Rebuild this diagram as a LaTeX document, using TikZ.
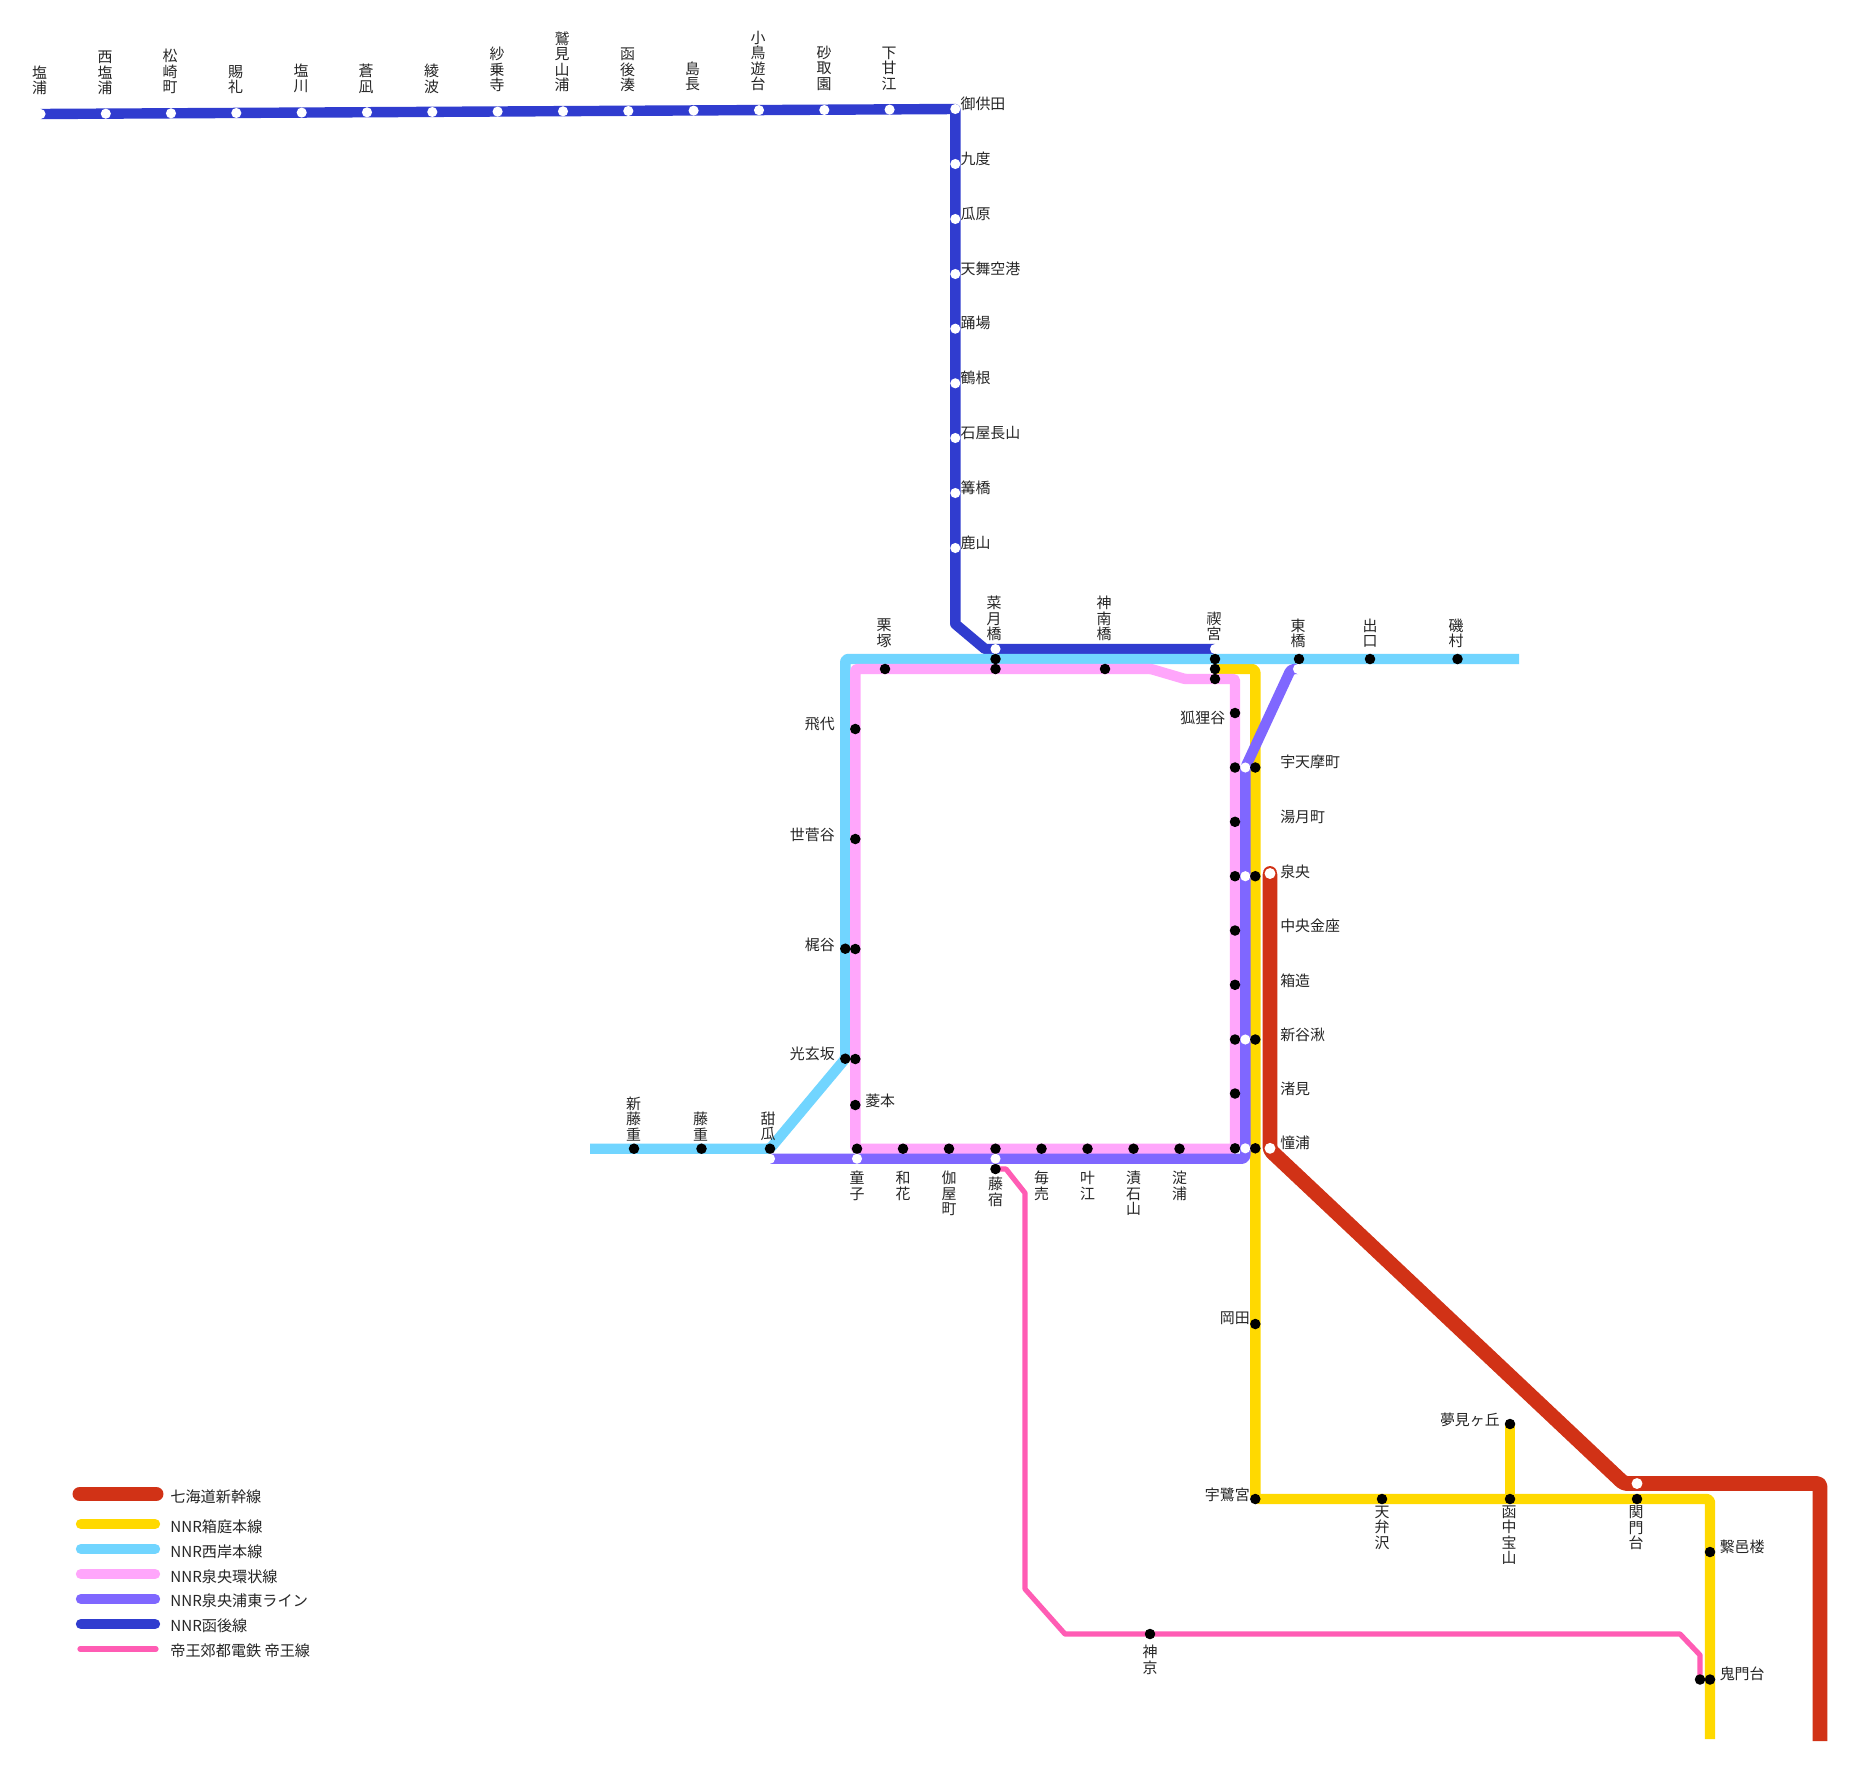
\documentclass[tikz,border=0pt]{standalone}
\usepackage{fontspec}
\setmainfont{Noto Sans CJK JP}
\begin{document}
\begin{tikzpicture}[x=0.75pt,y=-0.75pt,
  lbl/.style={font=\fontsize{11.2pt}{11.6pt}\selectfont,text=black!85,inner sep=0pt},
  lgt/.style={lbl,font=\fontsize{11.35pt}{11.6pt}\selectfont,anchor=west},
  vtop/.style={lbl,anchor=south,align=center},
  vbot/.style={lbl,anchor=north,align=center},
  hleft/.style={lbl,anchor=west},
  hright/.style={lbl,anchor=east},
  bk/.style={circle,fill=black,inner sep=0pt,minimum size=7.9pt},
  wt/.style={circle,fill=white,inner sep=0pt,minimum size=7.6pt},
  wtr/.style={circle,fill=white,inner sep=0pt,minimum size=8.2pt},
  rail/.style={line width=7.8pt,line join=round},
  redl/.style={line width=11.2pt,draw=cRed,line join=round},
  yell/.style={rail,draw=cYellow},
  cyanl/.style={rail,draw=cCyan},
  pinkl/.style={rail,draw=cPink},
  purpl/.style={rail,draw=cPurple},
  bluel/.style={rail,draw=cBlue},
  magl/.style={line width=3.9pt,draw=cMag,line join=round},
  lg/.style={line cap=round}]
\definecolor{cRed}{HTML}{D13216}
\definecolor{cYellow}{HTML}{FFD900}
\definecolor{cCyan}{HTML}{71D5FF}
\definecolor{cPink}{HTML}{FFA6FB}
\definecolor{cPurple}{HTML}{7F67FF}
\definecolor{cBlue}{HTML}{303CCF}
\definecolor{cMag}{HTML}{FF5CB4}
\useasboundingbox (0,0) rectangle (1858,1771);
\fill[white] (0,0) rectangle (1858,1771);

% bend coordinates
\coordinate (rA) at (1270,873.5);
\coordinate (rB) at (1270,1150);
\coordinate (rC) at (1624,1483.5);
\coordinate (rD) at (1820,1483.5);
\coordinate (rE) at (1820,1741);
\coordinate (yA) at (1215,669);
\coordinate (yB) at (1255.3,669);
\coordinate (yC) at (1255.3,1499);
\coordinate (yD) at (1710,1499);
\coordinate (yE) at (1710,1739);
\coordinate (cA) at (1519,659);
\coordinate (cB) at (845.3,659);
\coordinate (cC) at (845.3,1058.7);
\coordinate (cD) at (770,1148.7);
\coordinate (cE) at (590,1148.7);
\coordinate (pA) at (855.3,1148.7);
\coordinate (pB) at (855.3,669);
\coordinate (pC) at (1151,669);
\coordinate (pD) at (1185,679);
\coordinate (pE) at (1235,679);
\coordinate (pF) at (1235,1148.7);
\coordinate (uA) at (770,1158.7);
\coordinate (uB) at (1245.3,1158.7);
\coordinate (uC) at (1245.3,767.5);
\coordinate (uD) at (1291,669);
\coordinate (uE) at (1298,669);
\coordinate (bA) at (40.5,114);
\coordinate (bB) at (955.3,109);
\coordinate (bC) at (955.3,624);
\coordinate (bD) at (985,649);
\coordinate (bE) at (1215,649);
\coordinate (mA) at (995.5,1169);
\coordinate (mB) at (1006,1169);
\coordinate (mC) at (1025,1193);
\coordinate (mD) at (1025,1589);
\coordinate (mE) at (1065,1634);
\coordinate (mF) at (1680,1634);
\coordinate (mG) at (1700,1655);
\coordinate (mH) at (1700,1679);
\coordinate (yS) at (1510,1424);
\coordinate (yT) at (1510,1499);

% lines
\draw[redl,rounded corners=2.5pt] (rA) -- (rB) -- (rC) -- (rD) -- (rE);
\draw[redl,line cap=round] (rA) -- ++(0,1);
\draw[bluel,line cap=square] (bA) -- (bB) -- (bC) -- (bD) -- (bE);
\draw[yell,rounded corners=2.5pt] (yA) -- (yB) -- (yC) -- (yD) -- (yE);
\draw[yell,line cap=square] (yS) -- (yT);
\draw[cyanl,rounded corners=2pt] (cA) -- (cB) -- (cC) -- (cD) -- (cE);
\draw[pinkl,rounded corners=1pt] (pA) -- (pB) -- (pC) -- (pD) -- (pE) -- (pF) -- cycle;
\draw[purpl,line cap=square,rounded corners=2.5pt] (uA) -- (uB) -- (uC) -- (uD) -- (uE);
\draw[magl] (mA) -- (mB) -- (mC) -- (mD) -- (mE) -- (mF) -- (mG) -- (mH);

% blue line stations
\node[wt] (h1) at (40.5,114) {};
\node[wt] (h2) at (105.8,113.7) {};
\node[wt] (h3) at (171,113.3) {};
\node[wt] (h4) at (236.3,113) {};
\node[wt] (h5) at (301.7,112.6) {};
\node[wt] (h6) at (367,112.3) {};
\node[wt] (h7) at (432.3,112) {};
\node[wt] (h8) at (497.6,111.6) {};
\node[wt] (h9) at (563,111.3) {};
\node[wt] (h10) at (628.3,111) {};
\node[wt] (h11) at (693.6,110.6) {};
\node[wt] (h12) at (759,110.2) {};
\node[wt] (h13) at (824.3,110) {};
\node[wt] (h14) at (889.6,109.6) {};
\node[wt] (h15) at (955.3,109) {};
\node[wt] (h16) at (955.3,164) {};
\node[wt] (h17) at (955.3,219) {};
\node[wt] (h18) at (955.3,274) {};
\node[wt] (h19) at (955.3,328.7) {};
\node[wt] (h20) at (955.3,383.3) {};
\node[wt] (h21) at (955.3,438) {};
\node[wt] (h22) at (955.3,493) {};
\node[wt] (h23) at (955.3,548) {};
\node[wt] (h24) at (995.5,649) {};
\node[wt] (h25) at (1215,649) {};

% top row labels
\node[vtop] at (39.5,95) {塩\\浦};
\node[vtop] at (105,95) {西\\塩\\浦};
\node[vtop] at (170,94) {松\\崎\\町};
\node[vtop] at (235.5,94) {賜\\礼};
\node[vtop] at (301,93.5) {塩\\川};
\node[vtop] at (366,93.5) {蒼\\凪};
\node[vtop] at (431.5,93.5) {綾\\波};
\node[vtop] at (497,92) {紗\\乗\\寺};
\node[vtop] at (562,92) {鷲\\見\\山\\浦};
\node[vtop] at (627.5,92) {函\\後\\湊};
\node[vtop] at (692.5,91.5) {島\\長};
\node[vtop] at (758,91) {小\\鳥\\遊\\台};
\node[vtop] at (824,90.5) {砂\\取\\園};
\node[vtop] at (889,90.5) {下\\甘\\江};

\node[hleft] at (960.3,104) {御供田};
\node[hleft] at (960.3,158.5) {九度};
\node[hleft] at (960.3,213.5) {瓜原};
\node[hleft] at (960.3,268.5) {天舞空港};
\node[hleft] at (960.3,323) {踊場};
\node[hleft] at (960.3,377.5) {鶴根};
\node[hleft] at (960.3,432.5) {石屋長山};
\node[hleft] at (960.3,487.5) {篝橋};
\node[hleft] at (960.3,542.5) {鹿山};

% cyan stations
\node[bk] (w1) at (995.5,659) {};
\node[bk] (w2) at (1215,659) {};
\node[bk] (w3) at (1299,659) {};
\node[bk] (w4) at (1370,659) {};
\node[bk] (w5) at (1457.5,659) {};
\node[bk] (w6) at (845.3,948.7) {};
\node[bk] (w7) at (845.3,1058.7) {};
\node[bk] (w8) at (770,1148.7) {};
\node[bk] (w9) at (701.5,1148.7) {};
\node[bk] (w10) at (634,1148.7) {};

% loop stations
\node[bk] (p1) at (885,669) {};
\node[bk] (p2) at (995.5,669) {};
\node[bk] (p3) at (1105,669) {};
\node[bk] (p4) at (1215,669) {};
\node[bk] (p5) at (1215,679) {};
\node[bk] (p6) at (855.3,729) {};
\node[bk] (p7) at (855.3,839) {};
\node[bk] (p8) at (855.3,949) {};
\node[bk] (p9) at (855.3,1059) {};
\node[bk] (p10) at (855.3,1105) {};
\node[bk] (p11) at (857,1148.7) {};
\node[bk] (p12) at (903,1148.7) {};
\node[bk] (p13) at (949,1148.7) {};
\node[bk] (p14) at (995.5,1148.7) {};
\node[bk] (p15) at (1041.5,1148.7) {};
\node[bk] (p16) at (1087.5,1148.7) {};
\node[bk] (p17) at (1133.5,1148.7) {};
\node[bk] (p18) at (1179.5,1148.7) {};
\node[bk] (p19) at (1235,713) {};
\node[bk] (p20) at (1235,767.5) {};
\node[bk] (p21) at (1235,821.8) {};
\node[bk] (p22) at (1235,876.2) {};
\node[bk] (p23) at (1235,930.5) {};
\node[bk] (p24) at (1235,984.8) {};
\node[bk] (p25) at (1235,1039.5) {};
\node[bk] (p26) at (1235,1093.5) {};
\node[bk] (p27) at (1235,1148.3) {};

% purple stations
\node[wt] (u1) at (770,1158.7) {};
\node[wt] (u2) at (857,1158.7) {};
\node[wt] (u3) at (995.5,1158.7) {};
\node[wt] (u4) at (1245.3,767.5) {};
\node[wt] (u5) at (1245.3,876.2) {};
\node[wt] (u6) at (1245.3,1039.5) {};
\node[wt] (u7) at (1245.3,1148.3) {};
\node[wt] (u8) at (1298,669) {};

% yellow stations
\node[bk] (y1) at (1255.3,767.5) {};
\node[bk] (y2) at (1255.3,876.2) {};
\node[bk] (y3) at (1255.3,1039.5) {};
\node[bk] (y4) at (1255.3,1148.3) {};
\node[bk] (y5) at (1255.3,1324) {};
\node[bk] (y6) at (1255.3,1499) {};
\node[bk] (y7) at (1382,1499) {};
\node[bk] (y8) at (1510,1499) {};
\node[bk] (y9) at (1510,1424) {};
\node[bk] (y10) at (1637,1499) {};
\node[bk] (y11) at (1710,1552) {};
\node[bk] (y12) at (1710,1679.5) {};

% red stations
\node[wtr] (r1) at (1270,873.5) {};
\node[wtr] (r2) at (1270,1148.3) {};
\node[wtr] (r3) at (1637,1483.5) {};

% magenta stations
\node[bk] (m1) at (995.5,1169) {};
\node[bk] (m2) at (1150,1634) {};
\node[bk] (m3) at (1700,1679.5) {};

% upper labels around the loop
\node[vtop] at (884,647.5) {栗\\塚};
\node[vtop] at (994,641) {菜\\月\\橋};
\node[vtop] at (1104,641) {神\\南\\橋};
\node[vtop] at (1214,641) {禊\\宮};
\node[vtop] at (1298,648) {東\\橋};
\node[vtop] at (1370,648) {出\\口};
\node[vtop] at (1456,648) {磯\\村};
\node[vtop] at (633.5,1141) {新\\藤\\重};
\node[vtop] at (700.5,1141) {藤\\重};
\node[vtop] at (768,1141) {甜\\瓜};

% lower labels
\node[vbot] at (857,1171) {童\\子};
\node[vbot] at (903,1171) {和\\花};
\node[vbot] at (949,1171) {伽\\屋\\町};
\node[vbot] at (995.5,1177) {藤\\宿};
\node[vbot] at (1041.5,1171) {毎\\売};
\node[vbot] at (1087.5,1171) {叶\\江};
\node[vbot] at (1133.5,1171) {漬\\石\\山};
\node[vbot] at (1179.5,1171) {淀\\浦};
\node[vbot] at (1382,1505.5) {天\\弁\\沢};
\node[vbot] at (1509,1505.5) {函\\中\\宝\\山};
\node[vbot] at (1636,1505.5) {関\\門\\台};
\node[vbot] at (1150,1645) {神\\京};

% side labels
\node[hright] at (835,724) {飛代};
\node[hright] at (835,835) {世菅谷};
\node[hright] at (835,945) {梶谷};
\node[hright] at (835,1054) {光玄坂};
\node[hright] at (1225.5,718) {狐狸谷};
\node[hleft] at (865,1100.5) {菱本};
\node[hleft] at (1280,762) {宇天摩町};
\node[hleft] at (1280,817) {湯月町};
\node[hleft] at (1280,871.3) {泉央};
\node[hleft] at (1280,925.5) {中央金座};
\node[hleft] at (1280,980.5) {箱造};
\node[hleft] at (1280,1034.5) {新谷湫};
\node[hleft] at (1280,1088.5) {渚見};
\node[hleft] at (1280,1143) {憧浦};
\node[hright] at (1250,1318.5) {岡田};
\node[hright] at (1250,1494.5) {宇鷺宮};
\node[hright] at (1500,1419.5) {夢見ヶ丘};
\node[hleft] at (1719.5,1547) {繋邑楼};
\node[hleft] at (1719.5,1674) {鬼門台};

% legend
\coordinate (l1a) at (80,1494); \coordinate (l1b) at (156,1494);
\coordinate (l2a) at (81,1524); \coordinate (l2b) at (155,1524);
\coordinate (l3a) at (81,1549); \coordinate (l3b) at (155,1549);
\coordinate (l4a) at (81,1574); \coordinate (l4b) at (155,1574);
\coordinate (l5a) at (81,1599); \coordinate (l5b) at (155,1599);
\coordinate (l6a) at (81,1624); \coordinate (l6b) at (155,1624);
\coordinate (l7a) at (80,1649); \coordinate (l7b) at (156,1649);
\draw[redl,lg] (l1a) -- (l1b);
\draw[yell,lg] (l2a) -- (l2b);
\draw[cyanl,lg] (l3a) -- (l3b);
\draw[pinkl,lg] (l4a) -- (l4b);
\draw[purpl,lg] (l5a) -- (l5b);
\draw[bluel,lg] (l6a) -- (l6b);
\draw[magl,lg] (l7a) -- (l7b);
\node[lgt] at (170.2,1496.5) {七海道新幹線};
\node[lgt] at (170.2,1526.5) {NNR箱庭本線};
\node[lgt] at (170.2,1551.5) {NNR西岸本線};
\node[lgt] at (170.2,1576.5) {NNR泉央環状線};
\node[lgt] at (170.2,1601) {NNR泉央浦東ライン};
\node[lgt] at (170.2,1626) {NNR函後線};
\node[lgt] at (170.2,1651) {帝王郊都電鉄 帝王線};
\end{tikzpicture}
\end{document}
